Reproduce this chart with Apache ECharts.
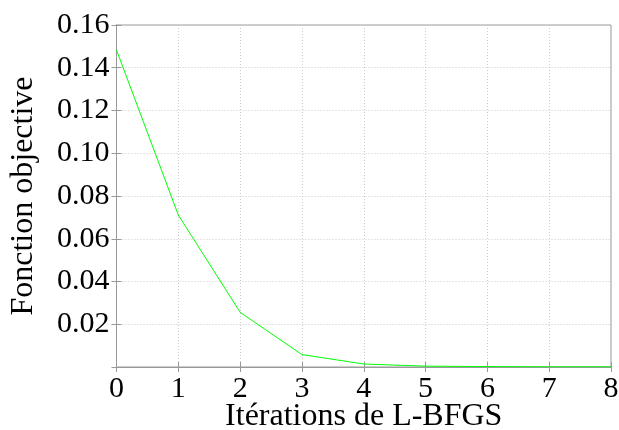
<!DOCTYPE html>
<html><head><meta charset="utf-8">
<script src="https://cdn.jsdelivr.net/npm/echarts@6/dist/echarts.min.js"></script>
<style>html,body{margin:0;padding:0;background:#fff}#c{width:619px;height:430px}</style>
</head><body><div id="c"></div>
<script>
const iterations = [0, 1, 2, 3, 4, 5, 6, 7, 8];
const objective = [0.1483, 0.0711, 0.0256, 0.0058, 0.0014, 0.0004, 0.0002, 0.0001, 0.0001];
const yTicks = [0.02, 0.04, 0.06, 0.08, 0.10, 0.12, 0.14, 0.16];

const chart = echarts.init(document.getElementById('c'));
const font = 'Liberation Serif';
const axisCol = '#999';
chart.setOption({
  animation: false,
  grid: {left: 116.5, right: 8, top: 25, bottom: 63, show: true, borderColor: axisCol, borderWidth: 1,
         outerBoundsMode: 'none', containLabel: false},
  xAxis: [{
    type: 'value', min: 0, max: 8, interval: 1,
    name: 'Itérations de L-BFGS', nameLocation: 'middle', nameGap: 34, nameMoveOverlap: false,
    nameTextStyle: {fontFamily: font, fontSize: 32, color: '#000'},
    axisLine: {show: true, lineStyle: {color: axisCol}},
    axisTick: {show: true, inside: true, length: 5, lineStyle: {color: axisCol}},
    axisLabel: {fontFamily: font, fontSize: 30, color: '#000', margin: 7},
    splitLine: {show: true, lineStyle: {color: '#ccc', type: [1, 2]}}
  }, {
    type: 'value', min: 0, max: 8, interval: 1, position: 'top',
    axisLine: {show: true, lineStyle: {color: axisCol}},
    axisTick: {show: true, inside: true, length: 5, lineStyle: {color: axisCol}},
    axisLabel: {show: false}, splitLine: {show: false}
  }],
  yAxis: [{
    type: 'value', min: 0, max: 0.16, interval: 0.02,
    name: 'Fonction objective', nameLocation: 'middle', nameGap: 77, nameRotate: 90, nameMoveOverlap: false,
    nameTextStyle: {fontFamily: font, fontSize: 32, color: '#000'},
    axisLine: {show: true, lineStyle: {color: axisCol}},
    axisTick: {show: true, inside: true, length: 5, lineStyle: {color: axisCol}},
    axisLabel: {fontFamily: font, fontSize: 30, color: '#000', margin: 7,
      formatter: v => {
        const t = yTicks.find(y => Math.abs(y - v) < 1e-9);
        return t === undefined ? '' : t.toFixed(2);
      }},
    splitLine: {show: true, lineStyle: {color: '#ccc', type: [1, 2]}}
  }, {
    type: 'value', min: 0, max: 0.16, interval: 0.02, position: 'right',
    axisLine: {show: true, lineStyle: {color: axisCol}},
    axisTick: {show: true, inside: true, length: 5, lineStyle: {color: axisCol}},
    axisLabel: {show: false}, splitLine: {show: false}
  }],
  series: [{
    type: 'line', data: iterations.map((x, i) => [x, objective[i]]),
    showSymbol: false, lineStyle: {color: '#00ff00', width: 1}, itemStyle: {color: '#00ff00'}
  }]
});
</script></body></html>
